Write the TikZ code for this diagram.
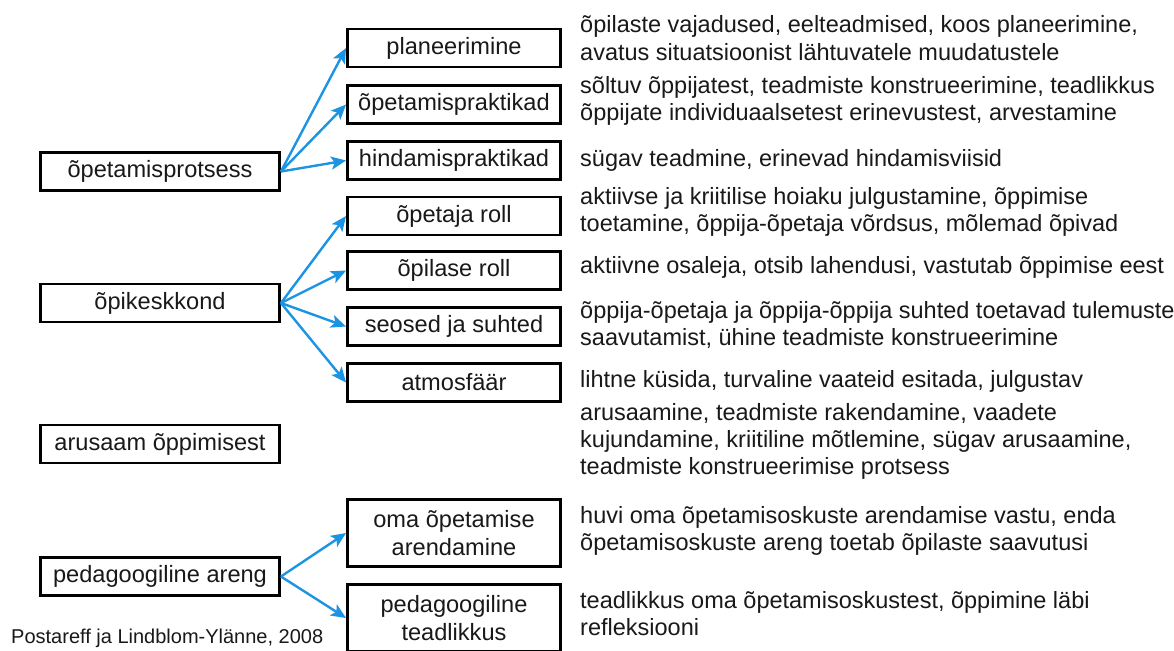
\documentclass[tikz,border=0pt]{standalone}
\usepackage{fontspec}
\setmainfont{Liberation Sans}
\usetikzlibrary{arrows.meta}
\definecolor{arrowblue}{RGB}{28,148,228}
\definecolor{txt}{RGB}{25,25,25}
\begin{document}
\begin{tikzpicture}[x=1pt,y=-1pt,
  box/.style={draw=black, line width=2.9pt, minimum height=38pt, inner sep=0pt,
    align=center, font=\fontsize{23.6}{27.5}\selectfont, text=txt, fill=white},
  lbox/.style={box, minimum width=239pt},
  rbox/.style={box, minimum width=213pt},
  desc/.style={anchor=base west, inner sep=0pt, font=\fontsize{23.5}{27}\selectfont, text=txt},
  arr/.style={draw=arrowblue, line width=2.4pt, -{Stealth[length=15pt,width=13pt,inset=3.5pt]}}]
\fill[white] (0,0) rectangle (1174,650);
\useasboundingbox (0,0) rectangle (1174,650);
% left boxes
\node[lbox] (l1) at (160,171.5) {õpetamisprotsess};
\node[lbox] (l2) at (160,303) {õpikeskkond};
\node[lbox] (l3) at (160,444) {arusaam õppimisest};
\node[lbox] (l4) at (160,576.5) {pedagoogiline areng};
% right boxes
\node[rbox] (r1) at (454,48) {planeerimine};
\node[rbox] (r2) at (454,104.5) {õpetamispraktikad};
\node[rbox] (r3) at (454,160.5) {hindamispraktikad};
\node[rbox] (r4) at (454,216) {õpetaja roll};
\node[rbox] (r5) at (454,270.5) {õpilase roll};
\node[rbox] (r6) at (454,326.5) {seosed ja suhted};
\node[rbox] (r7) at (454,382.5) {atmosfäär};
\node[rbox, minimum height=67pt] (r8) at (454,533) {oma õpetamise\\arendamine};
\node[rbox, minimum height=67pt] (r9) at (454,618) {pedagoogiline\\teadlikkus};
% arrows
\foreach \t in {r1,r2,r3} \draw[arr] (l1.east) -- (\t.west);
\foreach \t in {r4,r5,r6,r7} \draw[arr] (l2.east) -- (\t.west);
\foreach \t in {r8,r9} \draw[arr] (l4.east) -- (\t.west);
% descriptions
\node[desc] (d1a) at (580,33) {õpilaste vajadused, eelteadmised, koos planeerimine,};
\node[desc] (d1b) at (580,61) {avatus situatsioonist lähtuvatele muudatustele};
\node[desc] (d2a) at (580,94) {sõltuv õppijatest, teadmiste konstrueerimine, teadlikkus};
\node[desc] (d2b) at (580,121) {õppijate individuaalsetest erinevustest, arvestamine};
\node[desc] (d3) at (580,166) {sügav teadmine, erinevad hindamisviisid};
\node[desc] (d4a) at (580,204) {aktiivse ja kriitilise hoiaku julgustamine, õppimise};
\node[desc] (d4b) at (580,231) {toetamine, õppija-õpetaja võrdsus, mõlemad õpivad};
\node[desc] (d5) at (580,273) {aktiivne osaleja, otsib lahendusi, vastutab õppimise eest};
\node[desc] (d6a) at (580,318) {õppija-õpetaja ja õppija-õppija suhted toetavad tulemuste};
\node[desc] (d6b) at (580,345) {saavutamist, ühine teadmiste konstrueerimine};
\node[desc] (d7) at (580,387) {lihtne küsida, turvaline vaateid esitada, julgustav};
\node[desc] (d8a) at (580,420) {arusaamine, teadmiste rakendamine, vaadete};
\node[desc] (d8b) at (580,447) {kujundamine, kriitiline mõtlemine, sügav arusaamine,};
\node[desc] (d8c) at (580,474) {teadmiste konstrueerimise protsess};
\node[desc] (d9a) at (580,523) {huvi oma õpetamisoskuste arendamise vastu, enda};
\node[desc] (d9b) at (580,550) {õpetamisoskuste areng toetab õpilaste saavutusi};
\node[desc] (d10a) at (580,608) {teadlikkus oma õpetamisoskustest, õppimine läbi};
\node[desc] (d10b) at (580,635) {refleksiooni};
% source
\node[anchor=base west, inner sep=0pt, font=\fontsize{20}{24}\selectfont, text=txt] (src) at (11,643) {Postareff ja Lindblom-Ylänne, 2008};
\end{tikzpicture}
\end{document}
